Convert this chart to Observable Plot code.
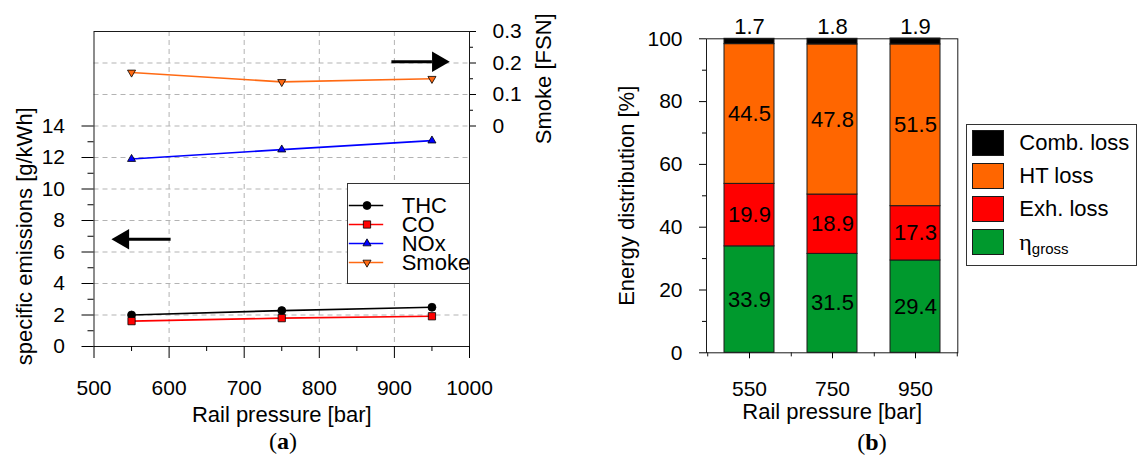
<!DOCTYPE html>
<html>
<head>
<meta charset="utf-8">
<script src="https://cdn.jsdelivr.net/npm/d3@7"></script>
<script src="https://cdn.jsdelivr.net/npm/@observablehq/plot@0.6"></script>
<style>
  html, body { margin: 0; padding: 0; background: #ffffff; }
  #root { position: relative; width: 1137px; height: 459px; overflow: hidden; background: #fff;
          font-family: "Liberation Sans", Arial, sans-serif; color: #000; }
  #root > * { position: absolute; }
  .caption { font-family: "Liberation Serif", "Times New Roman", serif; font-size: 24px; line-height: 24px;
             width: 100px; text-align: center; color: #000; }
  .legend-box { border: 1px solid #333; background: #fff; box-sizing: content-box; }
  .swatch { position: absolute; width: 30px; height: 24px; border: 1px solid #1a1a1a; }
  .legend-label { position: absolute; font-size: 22px; line-height: 26px; white-space: nowrap; color: #000; }
  .legend-label .eta { font-family: "Liberation Serif", "Times New Roman", serif; font-size: 24px; }
  .legend-label sub { font-size: 15px; vertical-align: -4px; line-height: 0; }
</style>
</head>
<body>
<div id="root"></div>
<script>
// ---------- Data: panel (a) ----------
const railPressure = [550, 750, 950];
const thc = [2.0, 2.28, 2.49];
const co = [1.61, 1.80, 1.92];
const nox = [11.9, 12.5, 13.07];
const smoke = [0.17, 0.14, 0.15];
const emissionNames = ["THC", "CO", "NOx", "Smoke"];
const pressureTicks = [500, 600, 700, 800, 900, 1000];
const pressureMinorTicks = [550, 650, 750, 850, 950];
const emissionTicks = [0, 2, 4, 6, 8, 10, 12, 14];
const emissionMinorTicks = [1, 3, 5, 7, 9, 11, 13];
const emissionGrid = [2, 4, 6, 8, 10, 12, 14, 16, 18];
const pressureGrid = [600, 700, 800, 900];
const smokeTicks = [0, 0.1, 0.2, 0.3];
const smokeMinorTicks = [0.05, 0.15, 0.25];
// annotation arrows, in data units (pressure, specific emissions)
const arrowTail = [896, 602];
const arrowBase = [950, 546.3];
const arrowTip = [974, 524.2];
const arrowLevel = [18.08, 6.81];

// ---------- Data: panel (b) ----------
const railCategories = ["550", "750", "950"];
const energyNames = ["Comb. loss", "HT loss", "Exh. loss", "η gross"];
const combLoss = [1.7, 1.8, 1.9];
const htLoss = [44.5, 47.8, 51.5];
const exhLoss = [19.9, 18.9, 17.3];
const etaGross = [33.9, 31.5, 29.4];
const energyTicks = [0, 20, 40, 60, 80, 100];
const energyMinorTicks = [10, 30, 50, 70, 90];

// ---------- Styles ----------
const FONT = '"Liberation Sans", Arial, sans-serif';
const emissionStyle = {
  THC:   {color: "#000000", symbol: "circle",   r: 4.0, rotate: 0},
  CO:    {color: "#ff0000", symbol: "square",   r: 4.1, rotate: 0},
  NOx:   {color: "#0000ff", symbol: "triangle", r: 3.0, rotate: 0},
  Smoke: {color: "#ff6a13", symbol: "triangle", r: 3.0, rotate: 180}
};
const energyColors = ["#000000", "#ff6600", "#ff0000", "#00992d"];
const stackOrder = ["η gross", "Exh. loss", "HT loss", "Comb. loss"];
const gridStyle = {stroke: "#b3b3b3", strokeDasharray: "5,4", strokeWidth: 1};
const titleStyle = {fontSize: 22, textAnchor: "middle", lineAnchor: "middle"};

// secondary (smoke) axis: 0 FSN sits at 14 g/kWh, 0.1 FSN per 2 g/kWh
const toLeft = s => 14 + s * 20;
const fromLeft = v => (v - 14) / 20;

const emissionValues = {THC: thc, CO: co, NOx: nox, Smoke: smoke.map(toLeft)};
const seriesRows = name => railPressure.map((p, i) => ({series: name, pressure: p, value: emissionValues[name][i]}));
const arrows = arrowTail.map((t, i) => ({tail: t, base: arrowBase[i], tip: arrowTip[i], y: arrowLevel[i]}));

// ---------- Panel (a) ----------
const leftMarks = [
  Plot.ruleX(pressureGrid, gridStyle),
  Plot.ruleY(emissionGrid, gridStyle),
  Plot.frame({stroke: "#1a1a1a"}),
  Plot.axisX(pressureTicks, {anchor: "bottom", tickSize: 12, tickPadding: 22, label: null, tickFormat: d => String(d)}),
  Plot.axisX(pressureMinorTicks, {anchor: "bottom", tickSize: 5, tickFormat: () => "", label: null}),
  Plot.axisY(emissionTicks, {anchor: "left", tickSize: 12, tickPadding: 17, label: null, tickFormat: d => String(d)}),
  Plot.axisY(emissionMinorTicks, {anchor: "left", tickSize: 6, tickFormat: () => "", label: null}),
  Plot.axisY(smokeTicks.map(toLeft), {anchor: "right", tickSize: 6, tickPadding: 17, label: null,
    tickFormat: d => d3.format("~g")(+fromLeft(d).toFixed(3))}),
  Plot.axisY(smokeMinorTicks.map(toLeft), {anchor: "right", tickSize: 3, tickFormat: () => "", label: null})
];
for (const name of emissionNames) {
  const s = emissionStyle[name];
  leftMarks.push(Plot.line(seriesRows(name), {x: "pressure", y: "value", stroke: s.color, strokeWidth: 1.6}));
}
for (const name of emissionNames) {
  const s = emissionStyle[name];
  leftMarks.push(Plot.dot(seriesRows(name), {x: "pressure", y: "value", symbol: s.symbol, r: s.r, rotate: s.rotate,
    fill: s.color, stroke: "#000", strokeWidth: 0.8}));
}
leftMarks.push(
  Plot.link(arrows, {x1: "tail", x2: "base", y1: "y", y2: "y", stroke: "#000", strokeWidth: 3.2}),
  Plot.dot(arrows, {x: d => d.base + (d.tip - d.base) / 3, y: "y", symbol: "triangle", r: 7.6,
    rotate: d => (d.tip > d.base ? 90 : -90), fill: "#000", stroke: "none"}),
  Plot.text(["Rail pressure [bar]"], {text: d => d, frameAnchor: "bottom", dy: 68, ...titleStyle}),
  Plot.text(["specific emissions [g/kWh]"], {text: d => d, frameAnchor: "left", y: () => 7, dx: -69.5, rotate: -90, ...titleStyle}),
  Plot.text(["Smoke [FSN]"], {text: d => d, frameAnchor: "right", y: () => toLeft(0.15), dx: 74, rotate: -90, ...titleStyle})
);

const left = Plot.plot({
  width: 560, height: 459,
  marginLeft: 93.5, marginRight: 91, marginTop: 31, marginBottom: 113,
  x: {type: "linear", domain: [500, 1000]},
  y: {type: "linear", domain: [0, 20]},
  style: {fontFamily: FONT, fontSize: "21px", color: "#000", background: "transparent", overflow: "visible"},
  marks: leftMarks
});

// legend of panel (a)
const legendLeft = Plot.plot({
  width: 121, height: 99, marginTop: 0, marginRight: 0, marginBottom: 0, marginLeft: 0,
  x: {type: "linear", domain: [0, 121], range: [0, 121], axis: null},
  y: {type: "point", domain: emissionNames, range: [11, 87.7], axis: null},
  style: {fontFamily: FONT, fontSize: "22px", color: "#000", background: "#fff", overflow: "visible"},
  marks: [
    ...emissionNames.map(name => Plot.ruleY([name], {y: d => d, x1: () => 0.8, x2: () => 35.2,
      stroke: emissionStyle[name].color, strokeWidth: 1.6})),
    ...emissionNames.map(name => Plot.dot([name], {x: () => 18.5, y: d => d, symbol: emissionStyle[name].symbol,
      r: emissionStyle[name].r, rotate: emissionStyle[name].rotate, fill: emissionStyle[name].color,
      stroke: "#000", strokeWidth: 0.8})),
    Plot.text(emissionNames, {x: () => 53.2, y: d => d, text: d => d, textAnchor: "start", fontSize: 22})
  ]
});

// ---------- Panel (b) ----------
const energyValues = {"Comb. loss": combLoss, "HT loss": htLoss, "Exh. loss": exhLoss, "η gross": etaGross};
const energyRows = [];
railCategories.forEach((c, i) => stackOrder.forEach(name =>
  energyRows.push({rail: c, series: name, value: energyValues[name][i]})));

const halfStep = 250.7 / 3 / 2;
const right = Plot.plot({
  width: 577, height: 459,
  marginLeft: 146, marginRight: 179.7, marginTop: 38.3, marginBottom: 106.7,
  x: {type: "band", domain: railCategories, paddingInner: 0.4, paddingOuter: 0.2},
  y: {type: "linear", domain: [0, 100]},
  color: {domain: energyNames, range: energyColors},
  style: {fontFamily: FONT, fontSize: "21px", color: "#000", background: "transparent", overflow: "visible"},
  marks: [
    Plot.barY(energyRows, {x: "rail", y: "value", fill: "series", order: stackOrder, stroke: "#1a1a1a", strokeWidth: 1}),
    Plot.frame({stroke: "#1a1a1a"}),
    Plot.axisY(energyTicks, {anchor: "left", tickSize: 7, tickPadding: 17, label: null, tickFormat: d => String(d)}),
    Plot.axisY(energyMinorTicks, {anchor: "left", tickSize: 4, tickFormat: () => "", label: null}),
    Plot.axisX({anchor: "bottom", tickSize: 6, tickPadding: 22, label: null}),
    Plot.ruleX(railCategories, {x: d => d, y1: () => 0, y2: () => -1.3, dx: halfStep, stroke: "#1a1a1a"}),
    Plot.ruleX(railCategories.slice(0, 1), {x: d => d, y1: () => 0, y2: () => -1.3, dx: -halfStep, stroke: "#1a1a1a"}),
    Plot.text(energyRows, Plot.stackY({x: "rail", y: "value", z: "series", order: stackOrder,
      text: d => (d.series === "Comb. loss" ? null : d.value.toFixed(1)), fontSize: 22})),
    Plot.text(energyRows, Plot.stackY2({x: "rail", y: "value", z: "series", order: stackOrder,
      text: d => (d.series === "Comb. loss" ? d.value.toFixed(1) : null), dy: -11.6, fontSize: 22})),
    Plot.text(["Rail pressure [bar]"], {text: d => d, frameAnchor: "bottom", dy: 59, ...titleStyle}),
    Plot.text(["Energy distribution [%]"], {text: d => d, frameAnchor: "left", dx: -79.3, rotate: -90, ...titleStyle})
  ]
});

// legend of panel (b)
const legendRight = document.createElement("div");
legendRight.className = "legend-box";
Object.assign(legendRight.style, {left: "966px", top: "124px", width: "169px", height: "140px"});
energyNames.forEach((name, i) => {
  const sw = document.createElement("div");
  sw.className = "swatch";
  Object.assign(sw.style, {left: "4.7px", top: (5 + 33 * i) + "px", background: energyColors[i]});
  const lab = document.createElement("div");
  lab.className = "legend-label";
  Object.assign(lab.style, {left: "52.3px", top: (5 + 33 * i) + "px"});
  if (name === "η gross") {
    lab.innerHTML = '<span class="eta">η</span><sub>gross</sub>';
  } else {
    lab.textContent = name;
  }
  legendRight.append(sw, lab);
});

// captions
function caption(letter, cx, top) {
  const el = document.createElement("div");
  el.className = "caption";
  el.innerHTML = "(<b>" + letter + "</b>)";
  Object.assign(el.style, {left: (cx - 50) + "px", top: top + "px"});
  return el;
}

const root = document.getElementById("root");
Object.assign(left.style, {left: "0px", top: "0px"});
Object.assign(right.style, {left: "560px", top: "0px"});
Object.assign(legendLeft.style, {left: "346.5px", top: "183px", border: "1px solid #333"});
root.append(left, right, legendLeft, legendRight, caption("a", 283, 429.2), caption("b", 872, 430));
</script>
</body>
</html>
